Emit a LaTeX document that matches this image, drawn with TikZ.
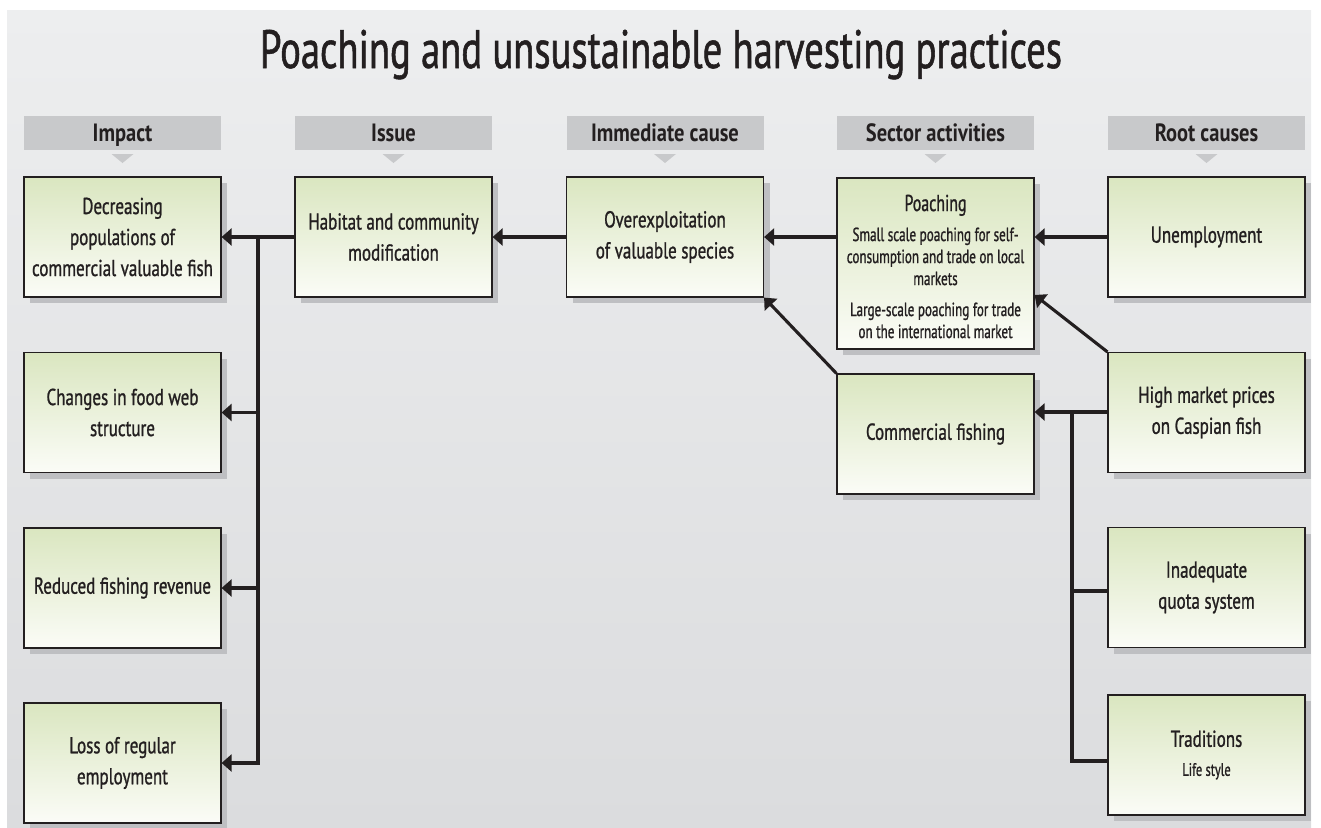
\documentclass[tikz,border=0pt]{standalone}
\usepackage{fontspec}
\setmainfont{PT Sans}[FakeStretch=0.74, FakeBold=1.0]
\newfontfamily\smallfont{PT Sans}[FakeStretch=0.69, FakeBold=1.0]
\newfontfamily\titlefont{PT Sans}[FakeStretch=0.715, FakeBold=1.0]
\newfontfamily\headfont{PT Sans Bold}[FakeStretch=0.82]
\usetikzlibrary{arrows.meta,shadows}
\definecolor{panelTop}{RGB}{237,238,239}
\definecolor{panelBot}{RGB}{219,220,222}
\definecolor{barGrey}{RGB}{200,201,203}
\definecolor{boxTop}{RGB}{218,230,192}
\definecolor{boxBot}{RGB}{251,252,247}
\definecolor{shadowGrey}{RGB}{190,191,194}
\definecolor{ink}{RGB}{35,31,32}
\begin{document}
\begin{tikzpicture}[x=1pt,y=-1pt,
  cbox/.style={draw=ink, line width=1.2pt, top color=boxTop, bottom color=boxBot,
    minimum width=197pt, minimum height=120pt, inner sep=0pt,
    align=center, text=ink, font=\fontsize{23}{31}\selectfont,
    drop shadow={shadow xshift=6pt, shadow yshift=-6pt, fill=shadowGrey, opacity=1}},
  hbar/.style={fill=barGrey, minimum width=197pt, minimum height=34pt, inner sep=0pt,
    text height=17pt, text depth=0pt, font=\headfont\fontsize{25}{28}\selectfont, text=ink},
  arr/.style={line width=3.1pt, draw=ink, -{Triangle[length=10pt,width=17pt]}},
  ln/.style={line width=3.1pt, draw=ink}
]
\useasboundingbox (0,0) rectangle (1321,827);
\fill[top color=panelTop, bottom color=panelBot] (7,10) rectangle (1311,827);

\node[anchor=base, text=ink, font=\titlefont\fontsize{54}{60}\selectfont] (title) at (661,68) {Poaching and unsustainable harvesting practices};

% header bars
\foreach \x/\t/\n in {122.5/Impact/h1, 393.5/Issue/h2, 665/Immediate cause/h3, 935.5/Sector activities/h4, 1206.5/Root causes/h5}{
  \node[hbar] (\n) at (\x,133) {\t};
  \fill[barGrey] (\x-11,154) -- (\x+11,154) -- (\x,163) -- cycle;
}

% boxes
\node[cbox] (imp1) at (122.5,237) {Decreasing\\populations of\\commercial valuable fish};
\node[cbox] (imp2) at (122.5,412.5) {Changes in food web\\structure};
\node[cbox] (imp3) at (122.5,588) {Reduced fishing revenue};
\node[cbox] (imp4) at (122.5,763) {Loss of regular\\employment};
\node[cbox] (issue) at (393.5,237) {Habitat and community\\modification};
\node[cbox] (over) at (665,237) {Overexploitation\\of valuable species};
\node[cbox, minimum height=171pt,
  label={[yshift=-3pt, align=center, text=ink, font=\smallfont\fontsize{19}{22}\selectfont]center:{{\fontsize{23}{31}\selectfont Poaching}\\[8pt]Small scale poaching for self-\\consumption and trade on local\\markets\\[9pt]Large-scale poaching for trade\\on the international market}}]
  (poach) at (935.5,263.5) {};
\node[cbox] (comm) at (935.5,434) {Commercial fishing};
\node[cbox] (unemp) at (1206.5,237) {Unemployment};
\node[cbox] (high) at (1206.5,412.5) {High market prices\\on Caspian fish};
\node[cbox] (quota) at (1206.5,587.5) {Inadequate\\quota system};
\node[cbox] (trad) at (1206.5,755) {Traditions\\[-2pt]{\smallfont\fontsize{18}{22}\selectfont Life style}};

% connectors left
\coordinate (j1) at (258,237);
\draw[arr] (issue.west) -- (imp1.east);
\draw[arr] (j1) |- (imp4.east);
\draw[arr] (j1 |- imp2.east) -- (imp2.east);
\draw[arr] (j1 |- imp3.east) -- (imp3.east);
\draw[arr] (over.west) -- (issue.east);
\draw[arr] (poach.west |- over.east) -- (over.east);
\draw[arr] (unemp.west) -- (poach.east |- unemp.west);
\draw[arr] (high.north west) -- ([yshift=-31.5pt]poach.east);
\draw[arr] (comm.north west) -- (over.south east);
% connectors right
\coordinate (j2) at (1072,412);
\coordinate (j3) at (1072,591);
\coordinate (j4) at (1072,761);
\draw[arr] (high.west |- j2) -- (comm.east |- j2);
\draw[ln] (j2) -- (j4) -- (trad.west |- j4);
\draw[ln] (j3) -- (quota.west |- j3);
\end{tikzpicture}
\end{document}
